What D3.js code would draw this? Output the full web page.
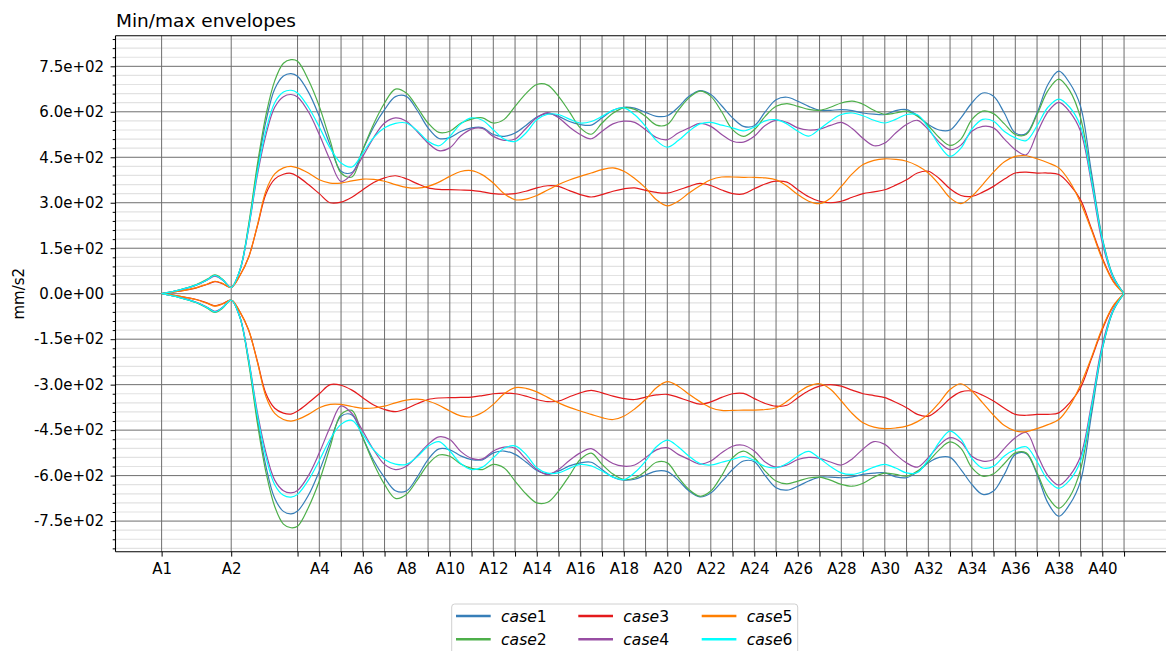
<!DOCTYPE html>
<html>
<head>
<meta charset="utf-8">
<script src="https://cdn.jsdelivr.net/npm/d3@7"></script>
<style>
  body { margin: 0; background: #ffffff; }
  svg { display: block; }
  text { font-family: "DejaVu Sans", sans-serif; }
</style>
</head>
<body>
<svg id="chart" width="1166" height="651"></svg>
<script>
// Stations along the x axis and their positions
const categories = ["A1","A2","A3","A4","A5","A6","A7","A8","A9","A10","A11","A12","A13","A14","A15","A16","A17","A18","A19","A20",
  "A21","A22","A23","A24","A25","A26","A27","A28","A29","A30","A31","A32","A33","A34","A35","A36","A37","A38","A39","A40","A41"];
const categoryPos = [0, 3.2, 6.25, 7.25, 8.25, 9.25, 10.25, 11.25, 12.25, 13.25, 14.25, 15.25, 16.25, 17.25, 18.25, 19.25,
  20.25, 21.25, 22.25, 23.25, 24.25, 25.25, 26.25, 27.25, 28.25, 29.25, 30.25, 31.25, 32.25, 33.25, 34.25, 35.25, 36.25,
  37.25, 38.25, 39.25, 40.25, 41.25, 42.25, 43.25, 44.25];
const labelledTicks = ["A1","A2","A4","A6","A8","A10","A12","A14","A16","A18","A20","A22","A24","A26","A28","A30",
  "A32","A34","A36","A38","A40"];

// Positions where the envelopes are sampled
const sampleX = [0, 0.8, 1.6, 2.1, 2.45, 2.8, 3.2, 3.6, 4.0, 4.4, 4.8, 5.2, 5.6, 5.95,
  6.25, 6.75, 7.25, 7.75, 8.25, 8.75, 9.25, 9.75, 10.25, 10.75,
  11.25, 11.75, 12.25, 12.75, 13.25, 13.75, 14.25, 14.75, 15.25, 15.75,
  16.25, 16.75, 17.25, 17.75, 18.25, 18.75, 19.25, 19.75, 20.25, 20.75,
  21.25, 21.75, 22.25, 22.75, 23.25, 23.75, 24.25, 24.75, 25.25, 25.75,
  26.25, 26.75, 27.25, 27.75, 28.25, 28.75, 29.25, 29.75, 30.25, 30.75,
  31.25, 31.75, 32.25, 32.75, 33.25, 33.75, 34.25, 34.75, 35.25, 35.75,
  36.25, 36.75, 37.25, 37.75, 38.25, 38.75, 39.25, 39.75, 40.25, 40.75,
  41.25, 41.75, 42.25, 42.75, 43.25, 43.75, 44.25];

// Max envelopes (mm/s2)
const case1Max = [0, 12, 29, 46, 60, 46, 21, 78, 220, 410, 570, 675, 718, 726,
  717, 665, 585, 490, 404, 400, 475, 550, 607, 650,
  651, 605, 547, 512, 515, 535, 547, 548, 525, 519,
  530, 555, 583, 594, 585, 568, 558, 556, 580, 605,
  615, 612, 598, 585, 587, 615, 651, 670, 657, 620,
  580, 552, 554, 600, 640, 648, 635, 618, 605, 605,
  607, 604, 596, 592, 591, 604, 607, 588, 558, 540,
  540, 580, 629, 662, 651, 595, 530, 528, 596, 690,
  734, 695, 618, 400, 184, 58, 0];
const case2Max = [0, 12, 30, 48, 62, 48, 21, 78, 228, 425, 590, 702, 760, 772,
  767, 705, 618, 505, 398, 385, 475, 560, 629, 675,
  662, 615, 563, 532, 536, 562, 576, 580, 563, 575,
  618, 660, 690, 688, 651, 600, 547, 526, 563, 595,
  613, 608, 585, 556, 558, 605, 646, 668, 651, 600,
  541, 519, 541, 585, 618, 627, 618, 608, 605, 615,
  629, 635, 625, 605, 592, 596, 602, 585, 554, 515,
  489, 510, 574, 602, 594, 560, 525, 525, 591, 670,
  708, 670, 580, 380, 179, 55, 0];
const case3Max = [0, 8, 19, 31, 40, 33, 21, 60, 120, 222, 330, 378, 394, 397,
  387, 360, 330, 300, 302, 318, 343, 367, 382, 389,
  379, 363, 349, 344, 343, 342, 341, 336, 330, 328,
  330, 338, 349, 356, 354, 340, 327, 319, 327, 338,
  346, 349, 341, 334, 332, 342, 354, 364, 357, 342,
  330, 329, 346, 362, 371, 368, 343, 320, 305, 300,
  305, 318, 330, 336, 343, 358, 376, 398, 404, 380,
  346, 324, 321, 335, 354, 378, 398, 401, 398, 398,
  393, 360, 310, 215, 118, 42, 0];
const case4Max = [0, 11, 28, 45, 58, 45, 21, 76, 215, 390, 525, 615, 650, 657,
  649, 600, 525, 440, 370, 395, 453, 515, 563, 580,
  569, 535, 497, 472, 481, 520, 543, 545, 519, 506,
  510, 545, 580, 597, 580, 550, 525, 511, 536, 560,
  569, 565, 541, 515, 508, 530, 547, 562, 552, 525,
  503, 500, 519, 555, 572, 565, 547, 540, 543, 555,
  565, 545, 512, 488, 497, 530, 558, 572, 541, 500,
  475, 490, 536, 552, 547, 510, 475, 458, 530, 600,
  631, 600, 536, 365, 168, 52, 0];
const case5Max = [0, 8, 20, 32, 41, 34, 21, 60, 120, 225, 340, 395, 415, 420,
  415, 398, 376, 365, 365, 372, 378, 377, 371, 360,
  351, 348, 354, 368, 387, 403, 406, 392, 365, 330,
  310, 312, 324, 342, 360, 375, 387, 398, 409, 415,
  404, 380, 349, 310, 290, 305, 332, 356, 376, 385,
  385, 384, 384, 382, 376, 355, 327, 305, 297, 315,
  354, 395, 426, 440, 445, 443, 437, 422, 398, 360,
  316, 297, 321, 360, 401, 435, 453, 455, 445, 432,
  415, 370, 300, 210, 113, 40, 0];
const case6Max = [0, 12, 29, 46, 60, 46, 21, 78, 218, 400, 540, 630, 665, 671,
  662, 615, 550, 480, 431, 418, 464, 515, 547, 562,
  563, 538, 503, 488, 519, 560, 580, 572, 541, 510,
  502, 530, 574, 592, 591, 576, 563, 568, 585, 605,
  613, 590, 552, 505, 483, 505, 536, 560, 565, 556,
  547, 537, 550, 570, 574, 560, 536, 520, 543, 570,
  591, 596, 587, 572, 563, 575, 591, 590, 547, 490,
  453, 480, 543, 575, 569, 535, 514, 505, 554, 615,
  642, 615, 552, 375, 179, 55, 0];

// Min envelopes (mm/s2)
const case1Min = [0, -12, -29, -46, -60, -46, -21, -78, -220, -410, -570, -675, -718, -726,
  -717, -665, -585, -490, -404, -400, -475, -550, -607, -650,
  -651, -605, -547, -512, -515, -535, -547, -548, -525, -519,
  -530, -555, -583, -594, -585, -568, -558, -556, -580, -605,
  -615, -612, -598, -585, -587, -615, -651, -670, -657, -620,
  -580, -552, -554, -600, -640, -648, -635, -618, -605, -605,
  -607, -604, -596, -592, -591, -604, -607, -588, -558, -540,
  -540, -580, -629, -662, -651, -595, -530, -528, -596, -690,
  -734, -695, -618, -400, -184, -58, 0];
const case2Min = [0, -12, -30, -48, -62, -48, -21, -78, -228, -425, -590, -702, -760, -772,
  -767, -705, -618, -505, -398, -385, -475, -560, -629, -675,
  -662, -615, -563, -532, -536, -562, -576, -580, -563, -575,
  -618, -660, -690, -688, -651, -600, -547, -526, -563, -595,
  -613, -608, -585, -556, -558, -605, -646, -668, -651, -600,
  -541, -519, -541, -585, -618, -627, -618, -608, -605, -615,
  -629, -635, -625, -605, -592, -596, -602, -585, -554, -515,
  -489, -510, -574, -602, -594, -560, -525, -525, -591, -670,
  -708, -670, -580, -380, -179, -55, 0];
const case3Min = [0, -8, -19, -31, -40, -33, -21, -60, -120, -222, -330, -378, -394, -397,
  -387, -360, -330, -300, -302, -318, -343, -367, -382, -389,
  -379, -363, -349, -344, -343, -342, -341, -336, -330, -328,
  -330, -338, -349, -356, -354, -340, -327, -319, -327, -338,
  -346, -349, -341, -334, -332, -342, -354, -364, -357, -342,
  -330, -329, -346, -362, -371, -368, -343, -320, -305, -300,
  -305, -318, -330, -336, -343, -358, -376, -398, -404, -380,
  -346, -324, -321, -335, -354, -378, -398, -401, -398, -398,
  -393, -360, -310, -215, -118, -42, 0];
const case4Min = [0, -11, -28, -45, -58, -45, -21, -76, -215, -390, -525, -615, -650, -657,
  -649, -600, -525, -440, -370, -395, -453, -515, -563, -580,
  -569, -535, -497, -472, -481, -520, -543, -545, -519, -506,
  -510, -545, -580, -597, -580, -550, -525, -511, -536, -560,
  -569, -565, -541, -515, -508, -530, -547, -562, -552, -525,
  -503, -500, -519, -555, -572, -565, -547, -540, -543, -555,
  -565, -545, -512, -488, -497, -530, -558, -572, -541, -500,
  -475, -490, -536, -552, -547, -510, -475, -458, -530, -600,
  -631, -600, -536, -365, -168, -52, 0];
const case5Min = [0, -8, -20, -32, -41, -34, -21, -60, -120, -225, -340, -395, -415, -420,
  -415, -398, -376, -365, -365, -372, -378, -377, -371, -360,
  -351, -348, -354, -368, -387, -403, -406, -392, -365, -330,
  -310, -312, -324, -342, -360, -375, -387, -398, -409, -415,
  -404, -380, -349, -310, -290, -305, -332, -356, -376, -385,
  -385, -384, -384, -382, -376, -355, -327, -305, -297, -315,
  -354, -395, -426, -440, -445, -443, -437, -422, -398, -360,
  -316, -297, -321, -360, -401, -435, -453, -455, -445, -432,
  -415, -370, -300, -210, -113, -40, 0];
const case6Min = [0, -12, -29, -46, -60, -46, -21, -78, -218, -400, -540, -630, -665, -671,
  -662, -615, -550, -480, -431, -418, -464, -515, -547, -562,
  -563, -538, -503, -488, -519, -560, -580, -572, -541, -510,
  -502, -530, -574, -592, -591, -576, -563, -568, -585, -605,
  -613, -590, -552, -505, -483, -505, -536, -560, -565, -556,
  -547, -537, -550, -570, -574, -560, -536, -520, -543, -570,
  -591, -596, -587, -572, -563, -575, -591, -590, -547, -490,
  -453, -480, -543, -575, -569, -535, -514, -505, -554, -615,
  -642, -615, -552, -375, -179, -55, 0];

const seriesNames = ["case1", "case2", "case3", "case4", "case5", "case6"];
const seriesColors = ["#377eb8", "#4daf4a", "#e41a1c", "#984ea3", "#ff7f00", "#00ffff"];
const yMajorTicks = [-750, -600, -450, -300, -150, 0, 150, 300, 450, 600, 750];

const envelopes = [
  { name: "case1", max: case1Max, min: case1Min },
  { name: "case2", max: case2Max, min: case2Min },
  { name: "case3", max: case3Max, min: case3Min },
  { name: "case4", max: case4Max, min: case4Min },
  { name: "case5", max: case5Max, min: case5Min },
  { name: "case6", max: case6Max, min: case6Min }
];

const svg = d3.select("#chart");
const plot = { left: 115.5, right: 1173, top: 35.7, bottom: 551.7 };

const x = d3.scaleLinear().domain([-2.12, 46.5]).range([plot.left, plot.right]);
const y = d3.scaleLinear().domain([-851, 851]).range([plot.bottom, plot.top]);

// Minor horizontal grid every 30 units
const yMinorTicks = d3.range(-840, 841, 30).filter(v => v % 150 !== 0);

const grid = svg.append("g");
grid.selectAll("line.minor").data(yMinorTicks).join("line")
  .attr("x1", plot.left).attr("x2", plot.right)
  .attr("y1", d => y(d)).attr("y2", d => y(d))
  .attr("stroke", "#e2e2e2").attr("stroke-width", 1.2);
grid.selectAll("line.majorY").data(yMajorTicks).join("line")
  .attr("x1", plot.left).attr("x2", plot.right)
  .attr("y1", d => y(d)).attr("y2", d => y(d))
  .attr("stroke", "#6e6e6e").attr("stroke-width", 1);
grid.selectAll("line.majorX").data(categoryPos).join("line")
  .attr("x1", d => x(d)).attr("x2", d => x(d))
  .attr("y1", plot.top).attr("y2", plot.bottom)
  .attr("stroke", "#6e6e6e").attr("stroke-width", 1);

// Envelope curves
const line = d3.line()
  .x((d, i) => x(sampleX[i]))
  .y(d => y(d))
  .curve(d3.curveCatmullRom.alpha(0.5));

const curves = svg.append("g");
envelopes.forEach((s, k) => {
  [s.max, s.min].forEach(vals => {
    curves.append("path")
      .datum(vals)
      .attr("d", line)
      .attr("fill", "none")
      .attr("stroke", seriesColors[k])
      .attr("stroke-width", 1.2);
  });
});

// Scientific tick labels like 7.5e+02
function sci(v) {
  if (v === 0) return "0.0e+00";
  const e = Math.floor(Math.log10(Math.abs(v)));
  const m = v / Math.pow(10, e);
  return m.toFixed(1) + "e" + (e < 0 ? "-" : "+") + String(Math.abs(e)).padStart(2, "0");
}

// Y axis
const yAxis = svg.append("g").attr("transform", `translate(${plot.left},0)`)
  .call(d3.axisLeft(y).tickValues(yMajorTicks).tickFormat(sci).tickSize(4.9).tickPadding(6.5));
const yMinorAxis = svg.append("g").attr("transform", `translate(${plot.left},0)`)
  .call(d3.axisLeft(y).tickValues(yMinorTicks).tickFormat("").tickSize(2.8));

// X axis
const labelSet = new Set(labelledTicks);
const xAxis = svg.append("g").attr("transform", `translate(0,${plot.bottom})`)
  .call(d3.axisBottom(x).tickValues(categoryPos)
    .tickFormat((d, i) => labelSet.has(categories[i]) ? categories[i] : "")
    .tickSize(4.9).tickPadding(6.5));

[yAxis, yMinorAxis, xAxis].forEach(g => {
  g.select(".domain").remove();
  g.attr("font-family", "DejaVu Sans, sans-serif").attr("font-size", 15);
  g.selectAll(".tick line").attr("stroke", "#000").attr("stroke-width", 1);
  g.selectAll(".tick text").attr("fill", "#000");
});

// Spines
const spines = svg.append("g").attr("stroke", "#000").attr("stroke-width", 1.1);
spines.append("line").attr("x1", plot.left).attr("x2", plot.left).attr("y1", plot.top).attr("y2", plot.bottom);
spines.append("line").attr("x1", plot.left).attr("x2", plot.right).attr("y1", plot.top).attr("y2", plot.top);
spines.append("line").attr("x1", plot.left).attr("x2", plot.right).attr("y1", plot.bottom).attr("y2", plot.bottom);
spines.append("line").attr("x1", plot.right).attr("x2", plot.right).attr("y1", plot.top).attr("y2", plot.bottom);

// Title and axis label
svg.append("text").attr("x", 116).attr("y", 26.7)
  .attr("font-size", 18.5).attr("fill", "#000").text("Min/max envelopes");
svg.append("text").attr("transform", "translate(24,293.7) rotate(-90)")
  .attr("text-anchor", "middle").attr("font-size", 15).attr("fill", "#000").text("mm/s2");

// Legend
const legend = svg.append("g");
legend.append("rect").attr("x", 451.7).attr("y", 604).attr("width", 346).attr("height", 52)
  .attr("rx", 3).attr("fill", "#fff").attr("fill-opacity", 0.8)
  .attr("stroke", "#d0d0d0").attr("stroke-width", 1);
const colX = [456, 578.3, 701.7];
const rowY = [616, 639.3];
seriesNames.forEach((name, i) => {
  const cx = colX[Math.floor(i / 2)];
  const ry = rowY[i % 2];
  legend.append("line").attr("x1", cx).attr("x2", cx + 34.7).attr("y1", ry).attr("y2", ry)
    .attr("stroke", seriesColors[i]).attr("stroke-width", 2.6);
  const t = legend.append("text").attr("x", cx + 45).attr("y", ry + 5.5)
    .attr("font-size", 15.6).attr("fill", "#000");
  t.append("tspan").attr("font-style", "italic").text(name.slice(0, 4));
  t.append("tspan").text(name.slice(4));
});
</script>
</body>
</html>
